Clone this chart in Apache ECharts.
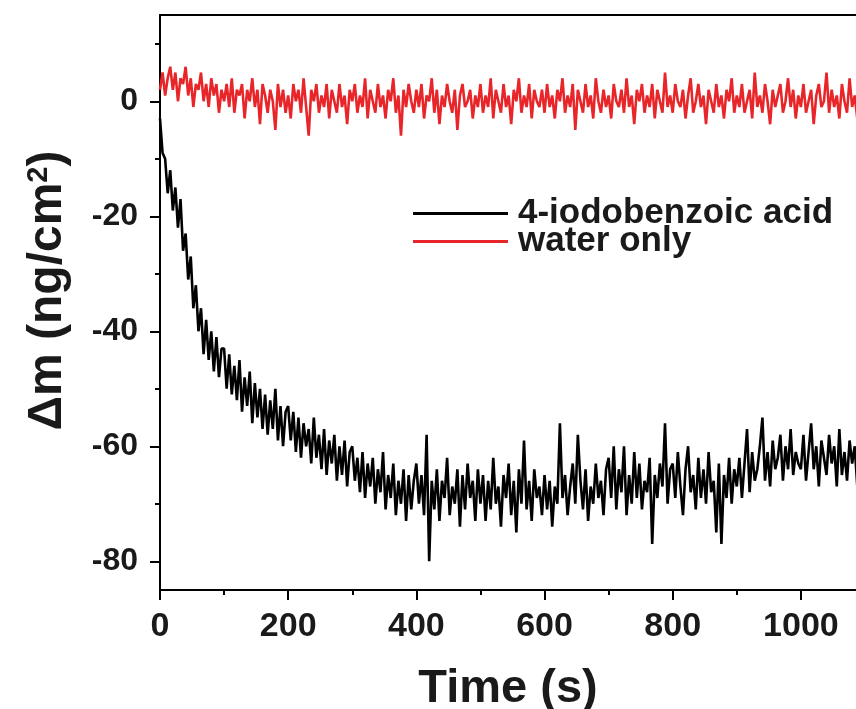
<!DOCTYPE html>
<html>
<head>
<meta charset="utf-8">
<script src="https://cdn.jsdelivr.net/npm/echarts@6/dist/echarts.min.js"></script>
<style>html,body{margin:0;padding:0;background:#fff}#c{width:856px;height:709px}</style>
</head>
<body>
<div id="c"></div>
<script>
const timeStep = 4;
const seriesNames = ['4-iodobenzoic acid', 'water only'];
// Δm (ng/cm²), one value every 4 s from 0 to 1100 s (25 values = 100 s per row)
const acidValues = [
  -3, -9, -10, -16, -12, -19, -15, -22, -17, -26, -23, -31, -27, -36, -32, -40, -36, -44, -38, -45, -40, -47, -41, -48, -43,
  -43, -50, -44, -51, -46, -52, -45, -54, -48, -53, -47, -56, -49, -55, -50, -57, -51, -58, -52, -57, -50, -59, -53, -60, -54,
  -53, -59, -54, -61, -55, -62, -56, -60, -57, -63, -55, -62, -58, -64, -57, -65, -59, -63, -58, -66, -60, -65, -59, -67, -61,
  -60, -66, -62, -68, -61, -69, -63, -67, -62, -70, -64, -68, -61, -71, -65, -69, -63, -72, -66, -70, -64, -73, -65, -71, -66,
  -63, -70, -65, -72, -58, -80, -66, -71, -64, -73, -66, -69, -62, -72, -67, -70, -64, -74, -65, -71, -63, -69, -66, -73, -64,
  -70, -65, -73, -66, -71, -62, -70, -67, -74, -65, -69, -63, -72, -66, -75, -64, -70, -59, -71, -66, -73, -64, -69, -67, -72,
  -65, -71, -66, -74, -67, -70, -56, -69, -65, -72, -67, -63, -70, -58, -66, -71, -64, -73, -67, -70, -63, -69, -66, -72, -64,
  -62, -69, -60, -71, -64, -68, -60, -72, -65, -70, -61, -69, -63, -71, -66, -68, -62, -77, -65, -69, -63, -67, -56, -70, -64,
  -63, -69, -61, -67, -72, -64, -60, -68, -65, -71, -62, -69, -64, -70, -61, -68, -66, -75, -63, -77, -65, -69, -62, -70, -64,
  -67, -62, -69, -63, -57, -68, -61, -66, -64, -60, -55, -66, -61, -67, -59, -64, -62, -58, -66, -60, -64, -57, -65, -61, -63,
  -64, -58, -66, -61, -56, -64, -60, -67, -59, -62, -65, -58, -63, -60, -67, -57, -65, -61, -66, -59, -63, -60, -67, -62, -58,
  -64
];
const waterValues = [
  2, 5, 1, 4, 6, 2, 5, 0, 4, 3, 6, 1, 4, -1, 3, 2, 5, 0, 3, -1, 4, 1, 3, -2, 2,
  0, 3, -1, 4, -2, 2, 1, 3, -3, 2, 0, 4, -1, 2, -4, 3, 1, -2, 2, 0, -5, 3, -1, 2, -2,
  1, -3, 3, 0, 2, -2, 4, -1, -6, 2, 0, 3, -2, 1, -1, 3, -3, 2, 0, -2, 3, -1, 1, -4, 2,
  0, 3, -2, 1, -1, 4, -3, 2, 0, -2, 3, -1, 1, -3, 2, 0, 4, -2, 1, -6, 2, -1, 3, 0, -2,
  2, -1, 3, -3, 1, 0, 4, -2, 2, -4, 1, -1, 3, 0, -2, 2, -5, 1, 3, -1, 0, 2, -3, 1, -1,
  3, -2, 1, -1, 4, -3, 2, 0, -2, 3, -1, 1, -4, 2, 0, 4, -2, 1, -1, 3, -3, 2, 0, -1, 2,
  -2, 3, -1, 1, -3, 2, 0, 4, -2, 1, -1, 3, -5, 2, 0, -2, 3, -1, 1, -3, 4, 0, -2, 2, -1,
  1, -3, 3, 0, -1, 2, -2, 4, -1, 1, -4, 2, 0, 3, -2, 1, -1, 3, -3, 2, 0, -2, 5, -1, 1,
  -2, 3, 0, -1, 2, -3, 1, 4, -2, 0, 3, -1, 1, -4, 2, 0, -2, 3, -1, 1, -3, 2, 0, 4, -2,
  1, -1, 3, -2, 0, 2, -3, 5, -1, 1, -2, 3, 0, -4, 2, -1, 1, 3, -2, 0, 4, -1, 2, -3, 1,
  -1, 3, -2, 0, 2, -4, 1, 3, -1, 0, 5, -2, 2, -1, 1, -3, 3, 0, -2, 4, -1, 1, -3, 2, 0,
  1
];
const xTickLabels = [0, 200, 400, 600, 800, 1000];
const xMinorTicks = [100, 300, 500, 700, 900];
const yTickLabels = [-80, -60, -40, -20, 0];
const yMinorTicks = [-70, -50, -30, -10, 10];

const FONT = '"Liberation Sans", Arial, Helvetica, sans-serif';
const TXT = '#1a1a1a';
const toPairs = vals => vals.map((v, i) => [i * timeStep, v]);

const chart = echarts.init(document.getElementById('c'), null, {renderer: 'canvas'});
const axisLine = {show: true, onZero: false, lineStyle: {color: '#000', width: 2}};
const noLine = {show: false, onZero: false};
const tickStyle = {width: 2, color: '#000'};
chart.setOption({
  animation: false,
  backgroundColor: '#fff',
  grid: {left: 160, top: 15, right: 0, bottom: 119, show: false, containLabel: false, outerBoundsMode: 'none'},
  legend: {
    orient: 'vertical', left: 413, top: 196, itemGap: -7, padding: 0,
    itemWidth: 95, itemHeight: 3, icon: 'rect',
    textStyle: {fontFamily: FONT, fontWeight: 'bold', fontSize: 35, color: TXT, padding: [0, 0, 0, 5]},
    data: seriesNames
  },
  xAxis: [{
    type: 'value', min: 0, max: 1086, position: 'bottom',
    name: 'Time (s)', nameLocation: 'middle', nameGap: 76,
    nameTextStyle: {fontFamily: FONT, fontWeight: 'bold', fontSize: 47, color: TXT},
    axisLine: axisLine, splitLine: {show: false},
    axisTick: {customValues: xTickLabels, length: 10, lineStyle: tickStyle},
    axisLabel: {customValues: xTickLabels, margin: 20, fontFamily: FONT, fontWeight: 'bold', fontSize: 34, color: TXT,
      formatter: v => String(v)}
  }, {
    type: 'value', min: 0, max: 1086, position: 'bottom',
    axisLine: noLine, splitLine: {show: false}, axisLabel: {show: false},
    axisTick: {customValues: xMinorTicks, length: 5, lineStyle: tickStyle}
  }, {
    type: 'value', min: 0, max: 1086, position: 'top',
    axisLine: axisLine, splitLine: {show: false}, axisLabel: {show: false}, axisTick: {show: false}
  }],
  yAxis: [{
    type: 'value', min: -85, max: 15, position: 'left',
    name: '{a|Δm (ng/cm}{s|2}{a|)}', nameLocation: 'middle', nameGap: 88,
    nameTextStyle: {
      padding: [0, 0, 0, 24],
      rich: {
        a: {fontFamily: FONT, fontWeight: 'bold', fontSize: 48, color: TXT},
        s: {fontFamily: FONT, fontWeight: 'bold', fontSize: 29, color: TXT, verticalAlign: 'top', lineHeight: 30}
      }
    },
    axisLine: axisLine, splitLine: {show: false},
    axisTick: {customValues: yTickLabels, length: 10, lineStyle: tickStyle},
    axisLabel: {customValues: yTickLabels, margin: 22, fontFamily: FONT, fontWeight: 'bold', fontSize: 32, color: TXT}
  }, {
    type: 'value', min: -85, max: 15, position: 'left',
    axisLine: noLine, splitLine: {show: false}, axisLabel: {show: false},
    axisTick: {customValues: yMinorTicks, length: 5, lineStyle: tickStyle}
  }],
  series: [{
    name: seriesNames[0], type: 'line', data: toPairs(acidValues),
    showSymbol: false, symbol: 'none', color: '#000',
    lineStyle: {color: '#000', width: 2.6}, clip: true
  }, {
    name: seriesNames[1], type: 'line', data: toPairs(waterValues),
    showSymbol: false, symbol: 'none', color: '#e8262a',
    lineStyle: {color: '#e8262a', width: 2.6}, clip: true
  }]
});
</script>
</body>
</html>
